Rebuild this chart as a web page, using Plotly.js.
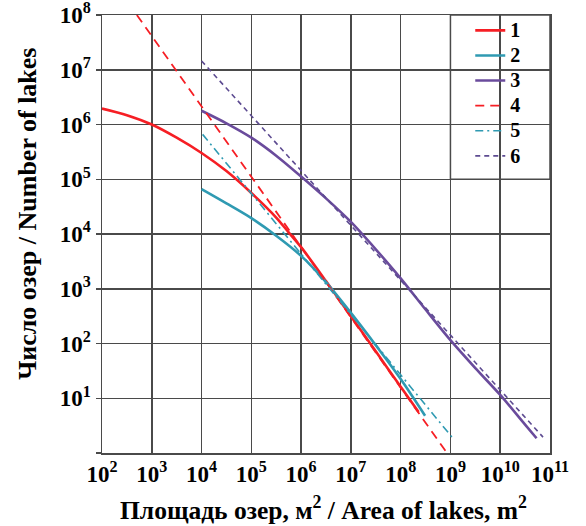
<!DOCTYPE html>
<html>
<head>
<meta charset="utf-8">
<script src="https://cdn.plot.ly/plotly-3.0.1.min.js"></script>
<style>html,body{margin:0;padding:0;background:#fff;}#chart{width:586px;height:526px;}</style>
</head>
<body>
<div id="chart"></div>
<script>
// Series 1 (red solid)
const area1 = [1e2, 3.16e2, 1e3, 3.16e3, 1e4, 3.16e4, 1e5, 3.16e5, 5.62e5, 1e6, 3.16e6, 1e7, 3.16e7, 1e8, 2.29e8];
const count1 = [1.95e6, 1.48e6, 1.0e6, 5.75e5, 3.02e5, 1.41e5, 5.62e4, 2.0e4, 1.07e4, 5.75e3, 1.38e3, 316, 72, 16.2, 5.6];
// Series 2 (teal solid)
const area2 = [1e4, 3.16e4, 1e5, 3.16e5, 1e6, 3.16e6, 1e7, 3.16e7, 1e8, 3.09e8];
const count2 = [6.6e4, 3.63e4, 1.95e4, 9.3e3, 3.98e3, 1.32e3, 363, 93, 22.4, 4.8];
// Series 3 (purple solid)
const area3 = [1e4, 3.16e4, 1e5, 3.16e5, 1e6, 3.16e6, 1e7, 3.16e7, 1e8, 3.16e8, 1e9, 3.16e9, 1e10, 3.16e10, 5.37e10];
const count3 = [1.78e6, 1.05e6, 5.75e5, 2.69e5, 1.12e5, 4.47e4, 1.66e4, 5.25e3, 1.55e3, 417, 115, 35.5, 11.5, 3.3, 1.86];
// Series 4-6 (power-law fits)
const area4 = [5.01e2, 8.51e8];
const count4 = [1e8, 1];
const area5 = [1.05e4, 1.12e9];
const count5 = [6.6e5, 1.86];
const area6 = [1e4, 7.24e10];
const count6 = [1.45e7, 1.95];

const seriesNames = ['1', '2', '3', '4', '5', '6'];
const xTickVals = [1e2, 1e3, 1e4, 1e5, 1e6, 1e7, 1e8, 1e9, 1e10, 1e11];
const xTickText = ['10<sup>2</sup>', '10<sup>3</sup>', '10<sup>4</sup>', '10<sup>5</sup>', '10<sup>6</sup>', '10<sup>7</sup>', '10<sup>8</sup>', '10<sup>9</sup>', '10<sup>10</sup>', '10<sup>11</sup>'];
const yTickVals = [1, 1e1, 1e2, 1e3, 1e4, 1e5, 1e6, 1e7, 1e8];
const yTickText = ['', '10<sup>1</sup>', '10<sup>2</sup>', '10<sup>3</sup>', '10<sup>4</sup>', '10<sup>5</sup>', '10<sup>6</sup>', '10<sup>7</sup>', '10<sup>8</sup>'];
const xTitle = 'Площадь озер, м<sup>2</sup> / Area of lakes, m<sup>2</sup>';
const yTitle = 'Число озер / Number of lakes';

const RED = '#f61e24', TEAL = '#2f9ab2', PURPLE = '#6a4b9c', PURPLE_D = '#5d4b91';
const FONT = 'Liberation Serif, Times New Roman, serif';
const GRID = '#4a4a4a';

function legendLabel(n) { return '<span style="font-size:20px">' + n + '</span>'; }

const traces = [
  {x: area1, y: count1, name: legendLabel(seriesNames[0]), mode: 'lines', line: {color: RED, width: 2.6, shape: 'spline', smoothing: 0.8}},
  {x: area2, y: count2, name: legendLabel(seriesNames[1]), mode: 'lines', line: {color: TEAL, width: 2.6, shape: 'spline', smoothing: 0.8}},
  {x: area3, y: count3, name: legendLabel(seriesNames[2]), mode: 'lines', line: {color: PURPLE, width: 2.6, shape: 'spline', smoothing: 0.8}},
  {x: area4, y: count4, name: legendLabel(seriesNames[3]), mode: 'lines', line: {color: RED, width: 1.8, dash: '9px,6px'}},
  {x: area5, y: count5, name: legendLabel(seriesNames[4]), mode: 'lines', line: {color: TEAL, width: 1.6, dash: '8px,4px,2px,4px'}},
  {x: area6, y: count6, name: legendLabel(seriesNames[5]), mode: 'lines', line: {color: PURPLE_D, width: 1.6, dash: '5px,4px'}}
];

const layout = {
  width: 586, height: 526,
  margin: {l: 102, r: 36, t: 15, b: 73, pad: 0},
  paper_bgcolor: '#fff', plot_bgcolor: '#fff',
  showlegend: true,
  legend: {x: 0.822, y: 1.005, xanchor: 'left', yanchor: 'top', bgcolor: 'rgba(0,0,0,0)', borderwidth: 0,
           font: {family: FONT, size: 17, color: '#000', weight: 'bold'}, itemwidth: 30, tracegroupgap: 0},
  xaxis: {type: 'log', range: [2, 11], tickmode: 'array', tickvals: xTickVals, ticktext: xTickText,
          showgrid: true, gridcolor: GRID, gridwidth: 1.5, showline: true, mirror: true, linecolor: GRID, linewidth: 1.5,
          ticks: '', ticklabeloverflow: 'allow', tickfont: {family: FONT, size: 23, color: '#000', weight: 'bold'}, zeroline: false},
  yaxis: {type: 'log', range: [0, 8], tickmode: 'array', tickvals: yTickVals, ticktext: yTickText,
          showgrid: true, gridcolor: GRID, gridwidth: 1.5, showline: true, mirror: true, linecolor: GRID, linewidth: 1.5,
          ticks: 'outside', ticklen: 5, tickwidth: 1.5, tickcolor: GRID, ticklabeloverflow: 'allow',
          tickfont: {family: FONT, size: 23, color: '#000', weight: 'bold'}, zeroline: false},
  shapes: [{type: 'rect', xref: 'paper', yref: 'paper', x0: 7/9, x1: 1, y0: 5/8, y1: 1, layer: 'between',
            fillcolor: '#fff', line: {color: GRID, width: 1.5}}],
  annotations: [
    {text: yTitle, xref: 'paper', yref: 'paper', x: 0, y: 0.546,
     xanchor: 'center', yanchor: 'middle', xshift: -74, textangle: -90, showarrow: false,
     font: {family: FONT, size: 26, color: '#000', weight: 'bold'}},
    {text: xTitle, xref: 'paper', yref: 'paper', x: 0.495, y: 0,
     xanchor: 'center', yanchor: 'middle', yshift: -55, showarrow: false,
     font: {family: FONT, size: 25.5, color: '#000', weight: 'bold'}}
  ]
};

Plotly.newPlot('chart', traces, layout, {staticPlot: true, displayModeBar: false});
</script>
</body>
</html>
